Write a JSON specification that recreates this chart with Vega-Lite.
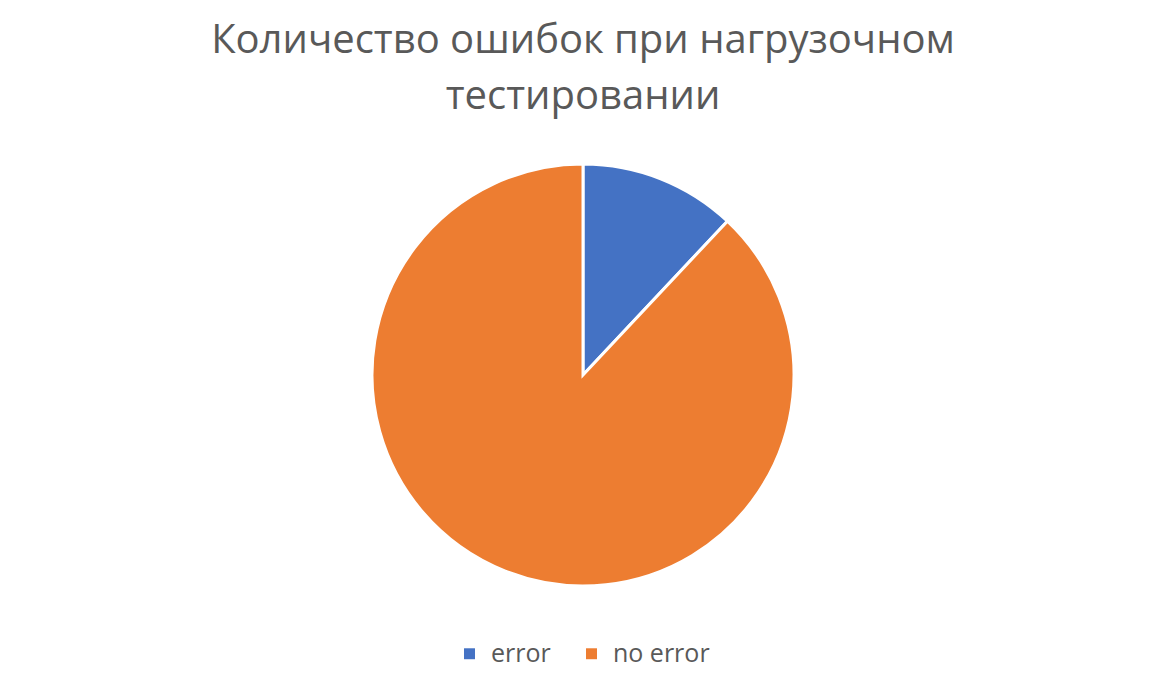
{
  "$schema": "https://vega.github.io/schema/vega-lite/v6.json",
  "width": 1166,
  "height": 681,
  "autosize": {"type": "fit", "contains": "padding"},
  "padding": {"top": 21, "bottom": 14, "left": 0, "right": 0},
  "background": "white",
  "title": {
    "text": ["Количество ошибок при нагрузочном", "тестировании"],
    "font": "Open Sans",
    "fontSize": 40,
    "fontWeight": "normal",
    "color": "#595959",
    "lineHeight": 56,
    "anchor": "middle",
    "offset": 4
  },
  "data": {
    "values": [
      {"category": "error", "value": 12},
      {"category": "no error", "value": 88}
    ]
  },
  "mark": {"type": "arc", "outerRadius": 211, "stroke": "white", "strokeWidth": 3},
  "encoding": {
    "theta": {"field": "value", "type": "quantitative", "stack": true},
    "order": {"field": "category", "sort": "ascending"},
    "color": {
      "field": "category",
      "type": "nominal",
      "scale": {"domain": ["error", "no error"], "range": ["#4472C4", "#ED7D31"]},
      "legend": {
        "orient": "bottom",
        "title": null,
        "direction": "horizontal",
        "symbolType": "square",
        "symbolSize": 120,
        "symbolStrokeWidth": 0,
        "labelFont": "Open Sans",
        "labelFontSize": 25,
        "labelColor": "#595959",
        "columnPadding": 28,
        "labelOffset": 9,
        "offset": 12
      }
    }
  },
  "config": {
    "view": {"stroke": null},
    "legend": {"layout": {"bottom": {"anchor": "middle"}}}
  }
}
